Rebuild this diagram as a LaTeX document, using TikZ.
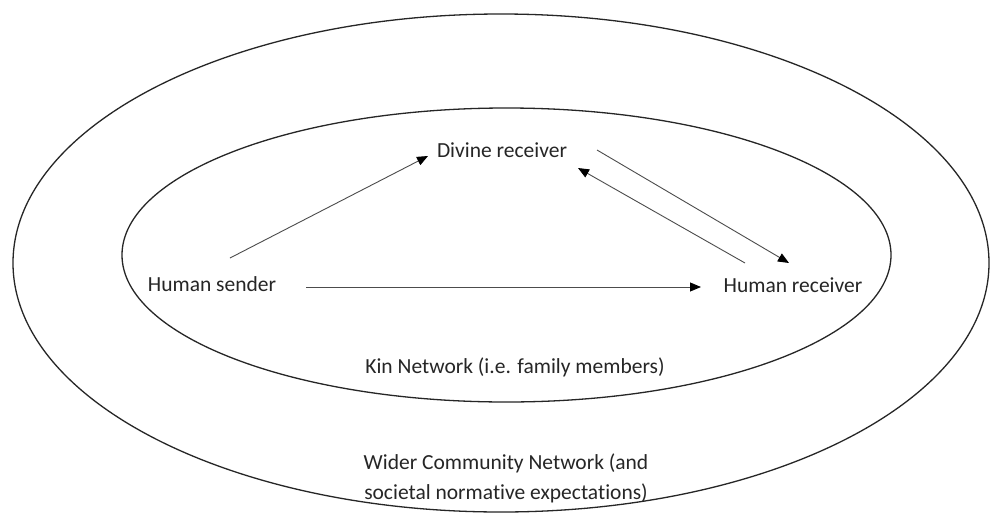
\documentclass[tikz,border=0pt]{standalone}
\usepackage{fontspec}
\setmainfont{Carlito}[Ligatures=NoCommon]
\usetikzlibrary{arrows.meta}
\begin{document}
\begin{tikzpicture}[x=1pt,y=-1pt,
  ring/.style={draw=black!85,line width=1.3pt},
  lbl/.style={inner sep=0pt,font=\fontsize{21.5}{30}\selectfont,text=black!85},
  conn/.style={draw=black!70,line width=0.9pt,-{Triangle[length=11pt,width=9pt,color=black,fill=black]}}]
\useasboundingbox (0,0) rectangle (994,517);
\fill[white] (0,0) rectangle (994,517);
\draw[ring] (501,263) ellipse [x radius=488pt,y radius=249pt];
\draw[ring] (506.5,255) ellipse [x radius=384.5pt,y radius=147pt];
\node[lbl] (div) at (502,150) {Divine receiver};
\node[lbl] (hs) at (212,284) {Human sender};
\node[lbl] (hr) at (793,285) {Human receiver};
\node[lbl] (kin) at (515,367) {Kin Network (i.e. family members)};
\node[lbl,align=center] (wide) at (506,478) {Wider Community Network (and\\societal normative expectations)};
\coordinate (a1) at (230,258);
\coordinate (a2) at (428,156);
\coordinate (b1) at (597,150);
\coordinate (b2) at (789,263);
\coordinate (c1) at (745,263);
\coordinate (c2) at (578,168);
\coordinate (d1) at (306,287);
\coordinate (d2) at (701,287);
\draw[conn] (a1) -- (a2);
\draw[conn] (b1) -- (b2);
\draw[conn] (c1) -- (c2);
\draw[conn] (d1) -- (d2);
\end{tikzpicture}
\end{document}
